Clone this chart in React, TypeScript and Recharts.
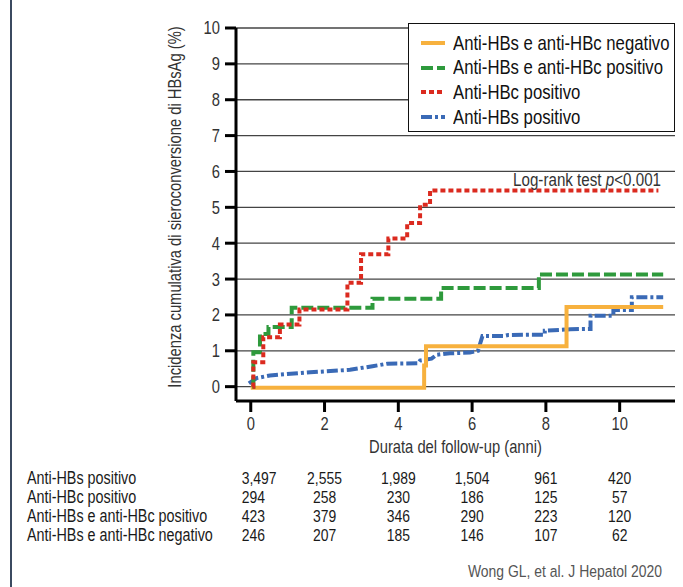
import React from 'react';
import { LineChart, Line, XAxis, YAxis, CartesianGrid, Legend } from 'recharts';

const FONT = "'Liberation Sans', Arial, sans-serif";
const SX = 0.82; // condensed look

// axis ticks
const xTicks = [0, 2, 4, 6, 8, 10];
const yTicks = [0, 1, 2, 3, 4, 5, 6, 7, 8, 9, 10];

// Anti-HBs e anti-HBc negativo (orange)
const negTime = [0, 4.7, 4.75, 8.56, 11.18];
const negValue = [-0.03, 0.59, 1.13, 2.22, 2.22];

// Anti-HBs e anti-HBc positivo (green)
const bothTime = [0.04, 0.07, 0.25, 0.48, 1.11, 3.3, 5.16, 7.81, 11.18];
const bothValue = [0, 0.96, 1.47, 1.66, 2.2, 2.45, 2.75, 3.13, 3.13];

// Anti-HBc positivo (red)
const hbcTime = [0.05, 0.07, 0.34, 0.79, 1.32, 2.62, 2.99, 3.73, 4.24, 4.59, 4.86, 11.05];
const hbcValue = [0, 0.68, 1.38, 1.73, 2.15, 2.9, 3.69, 4.13, 4.56, 5.07, 5.47, 5.47];

// Anti-HBs positivo (blue)
const hbsTime = [-0.05, 0.16, 0.52, 0.97, 1.61, 2.69, 3.3, 3.7, 4.54, 4.59, 4.9, 5.04, 5.4, 5.94, 6.16, 6.28, 6.84, 6.98, 7.6, 7.97, 7.97, 8.66, 9.21, 9.21, 9.83, 9.83, 10.33, 10.33, 11.18];
const hbsValue = [0.09, 0.24, 0.31, 0.35, 0.4, 0.47, 0.57, 0.64, 0.65, 0.73, 0.78, 0.89, 0.93, 0.95, 1.0, 1.41, 1.41, 1.44, 1.45, 1.45, 1.56, 1.6, 1.61, 1.98, 1.98, 2.14, 2.14, 2.49, 2.49];

// numbers at risk
const riskLabels = ['Anti-HBs positivo', 'Anti-HBc positivo', 'Anti-HBs e anti-HBc positivo', 'Anti-HBs e anti-HBc negativo'];
const riskHbs = ['3,497', '2,555', '1,989', '1,504', '961', '420'];
const riskHbc = ['294', '258', '230', '186', '125', '57'];
const riskBoth = ['423', '379', '346', '290', '223', '120'];
const riskNeg = ['246', '207', '185', '146', '107', '62'];
const riskRows = [riskHbs, riskHbc, riskBoth, riskNeg];

const toData = (t: number[], v: number[]) => t.map((x, i) => ({ t: x, v: v[i] }));

const series = [
  { key: 'neg', name: 'Anti-HBs e anti-HBc negativo', color: '#F7B13E', dash: undefined as string | undefined, type: 'stepAfter', data: toData(negTime, negValue) },
  { key: 'both', name: 'Anti-HBs e anti-HBc positivo', color: '#2E9A3C', dash: '12 4', type: 'stepAfter', data: toData(bothTime, bothValue) },
  { key: 'hbc', name: 'Anti-HBc positivo', color: '#DB2A1F', dash: '5 3', type: 'stepAfter', data: toData(hbcTime, hbcValue) },
  { key: 'hbs', name: 'Anti-HBs positivo', color: '#3A6AB6', dash: '11 3 3 3', type: 'linear', data: toData(hbsTime, hbsValue) },
];
const drawOrder = ['hbs', 'neg', 'both', 'hbc'];

const rowOffsets = [24.5, 43.7, 62.9, 82.1];

const NText = (p: { x: number; y: number; anchor?: string; size: number; fill: string; rotate?: number; children: React.ReactNode; dy?: string }) => (
  <text
    transform={`translate(${p.x},${p.y})${p.rotate ? ` rotate(${p.rotate})` : ''} scale(${SX},1)`}
    textAnchor={p.anchor || 'start'}
    fontFamily={FONT}
    fontSize={p.size}
    fill={p.fill}
    dy={p.dy}
  >
    {p.children}
  </text>
);

const XTick = (props: any) => {
  const { x, y, payload } = props;
  return <NText x={x} y={y} anchor="middle" size={18} fill="#333" dy="0.75em">{payload.value}</NText>;
};

const YTick = (props: any) => {
  const { x, y, payload } = props;
  return <NText x={x} y={y} anchor="end" size={18} fill="#333" dy="0.36em">{payload.value}</NText>;
};

const RiskTick = (props: any) => {
  const { x, y, payload } = props;
  const idx = xTicks.indexOf(payload.value);
  if (idx < 0) return null;
  return (
    <g>
      {riskRows.map((row, r) =>
        idx === 0 ? (
          <NText key={r} x={x - 9} y={y + rowOffsets[r]} anchor="start" size={17} fill="#1a1a1a">{row[idx]}</NText>
        ) : (
          <NText key={r} x={x} y={y + rowOffsets[r]} anchor="middle" size={17} fill="#1a1a1a">{row[idx]}</NText>
        )
      )}
    </g>
  );
};

const LegendBox = () => (
  <div
    style={{
      width: 267,
      height: 109,
      boxSizing: 'border-box',
      border: '1.5px solid #111',
      background: '#fff',
      paddingTop: 7,
      paddingLeft: 12,
      fontFamily: FONT,
      fontSize: 20.4,
      color: '#111',
    }}
  >
    {series.map((s) => (
      <div key={s.key} style={{ height: 24.6, display: 'flex', alignItems: 'center', whiteSpace: 'nowrap' }}>
        <svg width={24} height={8} style={{ marginRight: 8, flex: 'none' }}>
          <line x1={0} y1={4} x2={24} y2={4} stroke={s.color} strokeWidth={4} strokeDasharray={s.dash} />
        </svg>
        <span style={{ display: 'inline-block', transform: `scaleX(${SX})`, transformOrigin: 'left center' }}>{s.name}</span>
      </div>
    ))}
  </div>
);

export default function App() {
  return (
    <div style={{ position: 'absolute', left: 0, top: 0, width: 683, height: 587, background: '#fff' }}>
      <LineChart width={683} height={587} margin={{ top: 28, right: 8, bottom: 0, left: 0 }}>
        <CartesianGrid vertical={false} stroke="#444" strokeWidth={1.3} />
        <XAxis
          dataKey="t"
          type="number"
          domain={[-0.4, 11.5]}
          ticks={xTicks}
          interval={0}
          allowDataOverflow
          height={58}
          tickSize={11}
          tickMargin={4}
          axisLine={{ stroke: '#000', strokeWidth: 3 }}
          tickLine={{ stroke: '#000', strokeWidth: 3 }}
          tick={(p: any) => <XTick {...p} />}
        />
        <XAxis
          xAxisId="risk"
          dataKey="t"
          type="number"
          domain={[-0.4, 11.5]}
          ticks={xTicks}
          interval={0}
          allowDataOverflow
          height={128}
          tickSize={0}
          tickMargin={0}
          axisLine={false}
          tickLine={false}
          tick={(p: any) => <RiskTick {...p} />}
        />
        <YAxis
          type="number"
          domain={[-0.4, 10]}
          ticks={yTicks}
          interval={0}
          allowDataOverflow
          width={236}
          tickSize={11}
          tickMargin={5}
          axisLine={{ stroke: '#000', strokeWidth: 3 }}
          tickLine={{ stroke: '#000', strokeWidth: 3 }}
          tick={(p: any) => <YTick {...p} />}
        />
        {drawOrder.map((k) => {
          const s = series.find((q) => q.key === k)!;
          return (
            <Line
              key={s.key}
              data={s.data}
              dataKey="v"
              name={s.name}
              type={s.type as any}
              stroke={s.color}
              strokeWidth={4}
              strokeDasharray={s.dash}
              strokeLinecap="butt"
              dot={false}
              activeDot={false}
              isAnimationActive={false}
            />
          );
        })}
        <Legend
          layout="vertical"
          align="center"
          verticalAlign="middle"
          content={() => <LegendBox />}
          wrapperStyle={{ position: 'absolute', left: 408, top: 23, width: 267, height: 109 }}
        />
      </LineChart>
      <svg width={683} height={587} style={{ position: 'absolute', left: 0, top: 0, pointerEvents: 'none' }}>
        <line x1={11} y1={0} x2={11} y2={587} stroke="#3b4a60" strokeWidth={2} />
        <NText x={181} y={207} rotate={-90} anchor="middle" size={18} fill="#333">
          Incidenza cumulativa di sieroconversione di HBsAg (%)
        </NText>
        <NText x={455.5} y={453} anchor="middle" size={18} fill="#333">
          Durata del follow-up (anni)
        </NText>
        <NText x={661} y={186} anchor="end" size={18.5} fill="#333">
          Log-rank test <tspan fontStyle="italic">p</tspan>&lt;0.001
        </NText>
        {riskLabels.map((l, i) => (
          <NText key={l} x={27} y={459 + rowOffsets[i]} size={17.5} fill="#1a1a1a">
            {l}
          </NText>
        ))}
        <NText x={662} y={577} anchor="end" size={17} fill="#555">
          Wong GL, et al. J Hepatol 2020
        </NText>
      </svg>
    </div>
  );
}
